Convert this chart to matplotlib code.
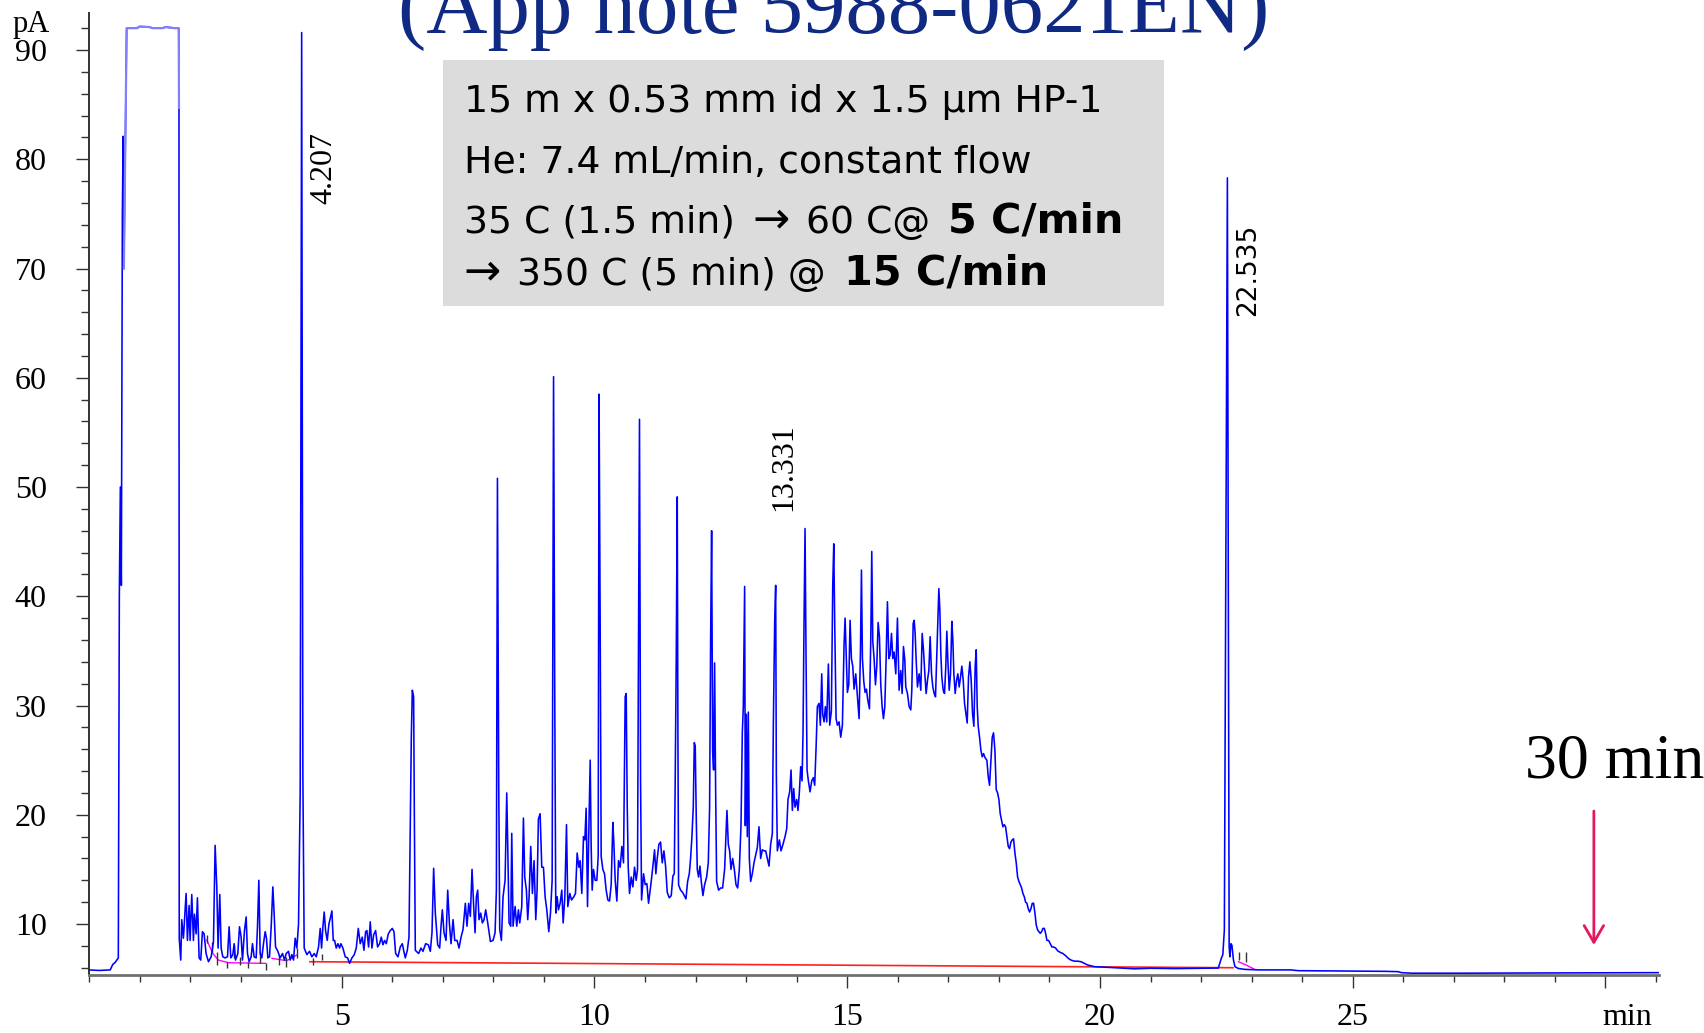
import matplotlib
matplotlib.use("Agg")
import matplotlib.pyplot as plt
from matplotlib.ticker import MultipleLocator
from matplotlib.patches import Rectangle
from matplotlib.text import Annotation

# ---------------- data ----------------
# retention time (min) / signal (pA), segment by segment
seg_a_t = [0.00, 0.20, 0.42, 0.47, 0.52, 0.58, 0.60, 0.62, 0.64, 0.66, 0.675, 0.69, 0.745, 0.80, 0.95,
           1.00, 1.20, 1.25, 1.45, 1.52, 1.70, 1.775, 1.78, 1.785]
seg_a_v = [5.80, 5.75, 5.80, 6.30, 6.50, 6.90, 40.0, 50.0, 41.0, 75.0, 82.1, 70.0, 92.0, 92.0, 92.0,
           92.15, 92.1, 92.0, 92.0, 92.1, 92.0, 92.0, 84.7, 8.7]

seg_b_t = [1.815, 1.835, 1.868, 1.921, 1.947, 1.98, 2.0, 2.033, 2.066, 2.086, 2.119, 2.145, 2.178, 2.211,
           2.244, 2.277, 2.316, 2.363, 2.416, 2.462, 2.495, 2.528, 2.554, 2.587, 2.614, 2.647, 2.693, 2.74,
           2.772, 2.805, 2.845, 2.871, 2.898, 2.944, 2.977, 3.01, 3.036, 3.076, 3.109, 3.135, 3.168, 3.208,
           3.234, 3.267, 3.307, 3.333, 3.36, 3.386, 3.419, 3.452, 3.485, 3.511, 3.538, 3.571, 3.604, 3.637,
           3.663, 3.69, 3.736, 3.782, 3.828, 3.868, 3.901, 3.947, 3.98, 4.013, 4.046, 4.079, 4.112, 4.145,
           4.178, 4.207, 4.231, 4.257, 4.31, 4.363, 4.409, 4.455, 4.495, 4.541, 4.574, 4.601, 4.627, 4.653,
           4.68, 4.713, 4.746, 4.772, 4.805, 4.832, 4.858, 4.891, 4.924, 4.957, 4.983, 5.023, 5.069, 5.115,
           5.155, 5.201, 5.248, 5.287, 5.327, 5.366, 5.406, 5.439, 5.472, 5.498, 5.531, 5.564, 5.597, 5.63,
           5.67, 5.709, 5.749, 5.782, 5.815, 5.848, 5.881, 5.921, 5.96, 6.0, 6.033, 6.066, 6.112, 6.158,
           6.198, 6.224, 6.257, 6.297, 6.33]
seg_b_v = [6.7, 10.4, 8.7, 12.8, 8.5, 11.7, 8.5, 12.7, 8.5, 10.9, 9.1, 12.4, 6.9, 6.7,
           9.3, 9.1, 7.3, 6.55, 7.0, 8.35, 17.2, 13.4, 7.8, 12.7, 7.8, 7.0, 6.9, 7.0,
           9.75, 6.9, 7.2, 8.2, 6.7, 7.3, 9.75, 8.8, 6.7, 9.4, 10.65, 7.3, 6.55, 7.0,
           8.2, 7.0, 6.9, 9.75, 14.0, 7.3, 6.9, 8.2, 9.3, 8.7, 6.9, 7.0, 9.75, 13.4,
           10.9, 7.9, 7.5, 6.9, 7.3, 6.7, 7.3, 7.5, 6.7, 7.2, 6.7, 8.7, 7.8, 10.0,
           22.0, 91.6, 23.5, 7.8, 7.2, 7.5, 7.0, 7.3, 7.0, 7.9, 9.6, 7.8, 9.75, 11.1,
           9.4, 8.5, 10.0, 10.5, 11.2, 8.5, 8.5, 7.8, 8.2, 7.8, 8.2, 7.8, 7.0, 6.9,
           6.4, 6.9, 7.2, 7.8, 9.6, 8.2, 8.8, 7.6, 9.3, 9.4, 7.9, 10.2, 7.8, 9.0,
           9.4, 7.9, 8.2, 8.8, 8.1, 8.5, 8.2, 9.1, 9.4, 9.6, 9.3, 7.3, 7.0, 7.9,
           8.2, 7.6, 6.9, 7.6, 8.8]

seg_c_t = [6.376, 6.396, 6.422, 6.436, 6.455, 6.521, 6.567, 6.607, 6.66, 6.713, 6.752, 6.785, 6.818, 6.851,
           6.898, 6.937, 6.964, 6.99, 7.023, 7.063, 7.096, 7.129, 7.162, 7.202, 7.235, 7.281, 7.32, 7.36,
           7.399, 7.445, 7.478, 7.511, 7.544, 7.577, 7.61, 7.637, 7.663, 7.689, 7.716, 7.749, 7.782, 7.815,
           7.848, 7.888, 7.941, 7.993, 8.033, 8.059, 8.08, 8.105, 8.125, 8.158, 8.191, 8.231, 8.264, 8.284,
           8.31, 8.343, 8.363, 8.389, 8.429, 8.462, 8.495, 8.521, 8.561, 8.594, 8.62, 8.653, 8.679, 8.706,
           8.739, 8.772, 8.805, 8.838, 8.864, 8.89, 8.924, 8.957, 8.99, 9.023, 9.056, 9.096, 9.129, 9.162,
           9.19, 9.215, 9.234, 9.261, 9.287, 9.32, 9.353, 9.38, 9.413, 9.446, 9.472, 9.512, 9.545, 9.591,
           9.624, 9.657, 9.69, 9.716, 9.749, 9.782, 9.809, 9.835, 9.862, 9.888, 9.915, 9.934, 9.954, 9.98,
           10.013, 10.046, 10.073, 10.09, 10.112, 10.132, 10.165, 10.198, 10.231, 10.264, 10.297, 10.33,
           10.363, 10.383, 10.409, 10.442, 10.475, 10.508, 10.541, 10.574, 10.607, 10.627, 10.647, 10.667,
           10.693, 10.726, 10.759, 10.792, 10.825, 10.851, 10.89, 10.911, 10.931, 10.97, 11.003, 11.036,
           11.069]
seg_c_v = [27.1, 31.4, 30.8, 20.1, 7.6, 7.3, 7.8, 7.5, 8.2, 8.1, 7.5, 9.2, 15.1, 11.0,
           8.1, 7.8, 9.8, 11.3, 9.2, 8.5, 13.1, 10.1, 8.2, 10.4, 8.5, 8.5, 7.8, 8.8,
           9.5, 11.9, 9.8, 11.9, 10.7, 15.0, 11.6, 9.2, 12.5, 13.1, 10.4, 11.0, 10.1, 10.4,
           11.3, 10.1, 8.4, 8.5, 9.2, 13.1, 50.8, 23.2, 9.5, 8.5, 12.5, 14.0, 22.0, 17.1,
           10.1, 9.8, 18.3, 9.8, 11.6, 9.8, 11.3, 10.1, 11.6, 19.7, 14.3, 13.1, 10.4, 12.5,
           17.1, 12.8, 15.8, 10.4, 13.1, 19.6, 20.1, 15.2, 15.2, 12.5, 11.3, 9.3, 11.0, 14.0,
           60.1, 29.4, 11.0, 12.5, 11.3, 11.9, 13.1, 10.1, 12.5, 19.1, 11.6, 12.8, 12.2, 12.5,
           12.8, 16.5, 15.2, 15.8, 12.8, 18.0, 17.7, 20.6, 11.6, 18.6, 25.0, 17.1, 13.1, 15.0,
           14.0, 14.0, 16.2, 58.5, 37.5, 16.2, 15.0, 14.6, 13.1, 12.2, 12.1, 13.6,
           19.3, 17.4, 14.0, 12.1, 15.8, 15.2, 17.1, 15.6, 30.8, 31.1, 21.0, 15.2,
           12.8, 14.3, 13.4, 15.2, 14.0, 15.0, 56.2, 23.2, 12.2, 14.6, 13.6, 13.7,
           11.9]

seg_d_t = [11.122, 11.162, 11.188, 11.214, 11.241, 11.274, 11.307, 11.34, 11.373, 11.406, 11.439, 11.479,
           11.518, 11.551, 11.578, 11.597, 11.617, 11.637, 11.65, 11.663, 11.703, 11.743, 11.776, 11.809,
           11.842, 11.875, 11.901, 11.927, 11.954, 11.974, 11.993, 12.013, 12.033, 12.059, 12.086, 12.112,
           12.145, 12.178, 12.218, 12.251, 12.277, 12.297, 12.317, 12.337, 12.356, 12.376, 12.396, 12.416,
           12.455, 12.495, 12.534, 12.574, 12.6, 12.62, 12.647, 12.673, 12.7, 12.733, 12.766, 12.799,
           12.832, 12.865, 12.898, 12.924, 12.944, 12.97, 12.984, 13.003, 13.023, 13.043, 13.063, 13.089,
           13.122, 13.155, 13.188, 13.221, 13.254, 13.287, 13.32, 13.353, 13.386, 13.419, 13.452, 13.485,
           13.518, 13.538, 13.564, 13.584, 13.597, 13.617, 13.657, 13.69, 13.729, 13.769, 13.802, 13.828,
           13.861, 13.888, 13.914, 13.941, 13.967, 14.0, 14.026, 14.053, 14.079, 14.106, 14.125, 14.145,
           14.165, 14.185, 14.205, 14.231, 14.264, 14.297, 14.33, 14.356, 14.383, 14.409, 14.442, 14.468,
           14.495, 14.515, 14.541, 14.567, 14.594, 14.627, 14.653, 14.686, 14.713, 14.733, 14.752, 14.779,
           14.805, 14.838, 14.871, 14.904, 14.937, 14.957, 14.977, 15.003, 15.03, 15.056, 15.082, 15.109,
           15.135, 15.168, 15.201, 15.234, 15.261, 15.281, 15.3, 15.327, 15.353, 15.38, 15.406, 15.439,
           15.465, 15.485, 15.505, 15.531, 15.558, 15.584, 15.611, 15.637, 15.663, 15.69, 15.716, 15.743,
           15.769, 15.795, 15.822, 15.848, 15.875, 15.901, 15.927, 15.96, 15.993]
seg_d_v = [13.9, 15.6, 16.8, 14.6, 16.0, 17.3, 17.5, 15.6, 16.7, 15.3, 12.9, 12.4,
           12.6, 14.4, 14.6, 23.4, 34.3, 49.1, 27.5, 13.6, 13.1, 12.9, 12.6, 12.3,
           13.9, 14.6, 16.0, 18.0, 20.7, 26.6, 26.3, 19.7, 15.0, 14.3, 15.3, 13.9,
           12.6, 13.6, 14.3, 15.6, 20.7, 36.0, 46.0, 25.8, 24.1, 33.9, 22.4, 13.9,
           13.1, 13.3, 13.3, 15.0, 18.0, 20.4, 17.3, 16.7, 15.0, 16.0, 15.0, 13.6,
           13.3, 15.0, 19.0, 27.5, 29.9, 40.9, 19.0, 29.2, 18.0, 29.4, 16.0, 13.9,
           14.6, 15.6, 16.3, 17.0, 18.9, 16.0, 16.8, 16.7, 16.7, 16.0, 15.3, 17.3,
           18.3, 28.2, 37.6, 41.0, 23.8, 16.7, 17.7, 16.7, 17.3, 18.0, 18.7, 21.4,
           22.1, 24.1, 20.4, 22.4, 20.7, 21.4, 20.4, 22.1, 24.4, 23.1, 27.5, 37.6,
           46.2, 34.3, 24.1, 23.1, 22.1, 23.1, 23.4, 22.7, 26.1, 29.9, 30.2, 28.2,
           32.9, 29.2, 28.5, 29.9, 28.5, 33.8, 28.2, 29.5, 41.0, 44.8, 37.6, 28.8,
           28.2, 28.5, 27.1, 28.2, 35.6, 38.0, 34.9, 31.2, 31.9, 37.8, 34.3, 33.6,
           31.5, 32.9, 30.9, 28.8, 34.9, 42.4, 34.3, 32.2, 31.2, 31.5, 30.5, 29.7,
           35.9, 44.1, 35.9, 34.3, 31.9, 33.6, 37.6, 36.3, 31.9, 29.9, 28.8, 29.9,
           34.3, 39.5, 34.3, 34.6, 36.6, 34.3, 34.9, 32.9, 38.0]

seg_e_t = [16.026, 16.059, 16.086, 16.112, 16.138, 16.158, 16.191, 16.224, 16.257, 16.277, 16.304, 16.323,
           16.343, 16.363, 16.389, 16.422, 16.455, 16.482, 16.508, 16.535, 16.561, 16.587, 16.614, 16.64,
           16.667, 16.693, 16.719, 16.746, 16.772, 16.792, 16.812, 16.832, 16.851, 16.871, 16.898, 16.924,
           16.95, 16.97, 16.99, 17.017, 17.043, 17.069, 17.089, 17.109, 17.135, 17.162, 17.188, 17.214,
           17.241, 17.267, 17.294, 17.32, 17.346, 17.373, 17.399, 17.426, 17.452, 17.478, 17.505, 17.531,
           17.551, 17.571, 17.591, 17.617, 17.644, 17.67, 17.696, 17.729, 17.762, 17.789, 17.815, 17.842,
           17.868, 17.894, 17.921, 17.947, 17.974, 18.0, 18.026, 18.053, 18.079, 18.106, 18.132, 18.158,
           18.185, 18.211, 18.238, 18.264, 18.29, 18.317, 18.343, 18.37, 18.396, 18.423, 18.449, 18.475,
           18.502, 18.528, 18.554, 18.581, 18.607, 18.634, 18.66, 18.686, 18.713, 18.739, 18.766, 18.792,
           18.818, 18.845, 18.871, 18.898, 18.924, 18.95, 18.983, 19.016, 19.049, 19.082, 19.122, 19.162,
           19.215, 19.267, 19.32, 19.373, 19.426, 19.492, 19.558, 19.624, 19.69, 19.756, 19.888, 20.152,
           20.416, 20.68]
seg_e_v = [31.4, 33.2, 31.1, 35.4, 34.2, 31.7, 31.1, 29.9, 29.6, 31.4, 37.5, 37.8,
           36.6, 34.2, 31.7, 32.9, 31.4, 36.6, 35.1, 32.9, 31.1, 32.3, 33.2, 36.3,
           32.9, 31.7, 31.1, 30.8, 34.8, 37.8, 40.7, 38.7, 34.8, 32.6, 31.4, 31.1,
           33.6, 36.8, 34.2, 31.4, 32.9, 37.7, 36.0, 32.9, 31.1, 32.3, 32.9, 31.7,
           32.6, 33.6, 32.3, 30.2, 29.3, 28.4, 32.6, 34.0, 32.3, 29.3, 28.1, 33.6,
           35.1, 29.9, 28.1, 27.1, 25.9, 25.3, 25.6, 25.2, 25.0, 23.5, 22.7, 25.0,
           27.1, 27.5, 25.9, 22.3, 22.0, 21.4, 20.1, 19.5, 18.9, 19.1, 18.9, 18.0,
           17.1, 16.9, 17.5, 17.7, 17.8, 16.5, 15.6, 14.3, 13.9, 13.6, 13.3, 12.8,
           12.5, 12.0, 11.9, 11.4, 11.1, 11.4, 11.9, 11.9, 11.0, 9.9, 9.45, 9.3,
           9.15, 9.3, 9.6, 9.6, 9.15, 8.5, 8.5, 8.2, 7.9, 7.9, 7.8, 7.55,
           7.4, 7.3, 7.1, 6.86, 6.7, 6.6, 6.6, 6.55, 6.4, 6.25, 6.1, 6.04,
           5.97, 5.9]

seg_f_t = [21.0, 21.5, 22.0, 22.34, 22.40, 22.43, 22.46, 22.52, 22.555, 22.57, 22.59, 22.61, 22.64,
           22.67, 22.73, 22.86, 23.15, 23.78, 23.92, 25.63, 25.9, 25.96, 26.16, 27.21, 30.9, 31.05]
seg_f_v = [5.95, 5.92, 5.95, 5.97, 6.86, 7.2, 9.45, 78.3, 7.9, 7.0, 8.2, 8.05, 6.7,
           6.1, 5.94, 5.85, 5.8, 5.8, 5.73, 5.67, 5.64, 5.55, 5.5, 5.5, 5.55, 5.55]

# integration baselines
red_base_t = [4.37, 22.63]
red_base_v = [6.55, 6.00]
mag1_t = [2.33, 2.45, 2.56, 2.76, 3.49]
mag1_v = [8.54, 7.3, 6.7, 6.46, 6.4]
mag2_t = [3.62, 3.91, 4.11]
mag2_v = [6.86, 6.64, 7.16]
mag3_t = [22.74, 22.89, 23.06]
mag3_v = [6.55, 6.25, 5.85]

# peak start/stop tick marks (time, top, bottom)
mark_t = [2.33, 2.43, 2.53, 2.73, 2.86, 2.98, 3.14, 3.39, 3.50, 3.75, 3.90, 4.11, 4.44, 4.61, 22.74, 22.89]
mark_top = [8.99, 8.38, 7.46, 6.55, 8.08, 7.0, 6.55, 7.46, 6.4, 7.16, 7.0, 7.8, 6.86, 7.3, 7.46, 7.46]
mark_bot = [8.23, 7.46, 6.25, 5.94, 6.86, 6.25, 5.94, 6.4, 5.79, 6.25, 6.04, 6.86, 6.25, 6.7, 6.7, 6.55]

# retention-time labels
rt_labels = ["4.207", "13.331", "22.535"]
rt_label_x = [4.65, 13.75, 22.93]
rt_label_y = [75.9, 47.8, 65.65]

x_major = [5, 10, 15, 20, 25, 30]
x_major_labels = ["5", "10", "15", "20", "25", ""]
y_major = [10, 20, 30, 40, 50, 60, 70, 80, 90]

box_line1 = "15 m x 0.53 mm id x 1.5 µm HP-1"
box_line2 = "He: 7.4 mL/min, constant flow"
box_line3_parts = ["35 C (1.5 min)", "→", "60 C@", "5 C/min"]
box_line4_parts = ["→", "350 C (5 min) @", "15 C/min"]

arrow_x = 29.77
arrow_y_from = 20.34
arrow_y_to = 8.08

# ---------------- figure ----------------
W, H = 1704, 1033
fig = plt.figure(figsize=(W / 100, H / 100), dpi=100)
ax = fig.add_axes([89 / W, 1 - 974.5 / H, 31.05 * 50.55 / W, (974.5 - 13.3) / H])
ax.set_xlim(0, 31.05)
ax.set_ylim(5.38, 93.36)

trace_t = seg_a_t + seg_b_t + seg_c_t + seg_d_t + seg_e_t + seg_f_t
trace_v = seg_a_v + seg_b_v + seg_c_v + seg_d_v + seg_e_v + seg_f_v
ax.plot(red_base_t, red_base_v, color="#ff2020", lw=1.2, zorder=2)
ax.plot(mag1_t, mag1_v, color="#ff00ff", lw=1.0, zorder=2)
ax.plot(mag2_t, mag2_v, color="#ff00ff", lw=1.0, zorder=2)
ax.plot(mag3_t, mag3_v, color="#ff00ff", lw=1.0, zorder=2)
ax.vlines(mark_t, mark_bot, mark_top, color="#333333", lw=1.0, zorder=2)
ax.plot(trace_t, trace_v, color="#0000ff", lw=1.15, zorder=3)
# saturated solvent plateau appears lighter in the original trace
ax.plot(seg_a_t[11:23], seg_a_v[11:23], color="#8080ff", lw=1.6, zorder=4)

for s in ["top", "right"]:
    ax.spines[s].set_visible(False)
ax.spines["left"].set_color("#333333")
ax.spines["left"].set_linewidth(1.4)
ax.spines["bottom"].set_color("#707070")
ax.spines["bottom"].set_linewidth(2.0)

serif = "Liberation Serif"
ax.set_xticks(x_major)
ax.set_xticklabels(x_major_labels, family=serif, fontsize=23)
ax.xaxis.set_minor_locator(MultipleLocator(1))
ax.set_yticks(y_major)
ax.set_yticklabels([str(v) for v in y_major], family=serif, fontsize=23)
ax.yaxis.set_minor_locator(MultipleLocator(2))
ax.tick_params(axis="x", which="major", length=9.4, width=1.0, pad=11, color="#333333")
ax.tick_params(axis="x", which="minor", length=5.0, width=1.0, color="#333333")
ax.tick_params(axis="y", which="major", length=9.4, width=1.0, pad=21, color="#333333")
ax.tick_params(axis="y", which="minor", length=5.5, width=1.0, color="#333333")

ax.annotate("min", xy=(30, 0), xycoords=("data", "axes fraction"),
            xytext=(16, -(9.4 + 11)), textcoords="offset points",
            ha="center", va="top", fontsize=23, family=serif)
fig.text(12.7 / W, 1 - 32 / H, "pA", fontsize=22, family=serif, ha="left", va="baseline")

for lab, lx, ly in zip(rt_labels, rt_label_x, rt_label_y):
    if lab == "22.535":
        ax.text(lx, ly, lab, rotation=90, ha="center", va="bottom", fontsize=19, family="DejaVu Sans")
    else:
        ax.text(lx, ly, lab, rotation=90, ha="center", va="bottom", fontsize=23, family=serif)

ax.annotate("", xy=(arrow_x, arrow_y_to), xytext=(arrow_x, arrow_y_from),
            arrowprops=dict(arrowstyle="->,head_length=1.2,head_width=0.7", color="#e3195b",
                            lw=2.0, shrinkA=0, shrinkB=0, mutation_scale=10))
fig.text(1525 / W, 1 - 777 / H, "30 min", fontsize=46, family=serif, ha="left", va="baseline")

fig.text(834 / W, 1 - 33 / H, "(App note 5988-0621EN)", fontsize=61, family=serif,
         color="#102a83", ha="center", va="baseline")

# ---- grey parameter box ----
fig.add_artist(Rectangle((443 / W, 1 - 306 / H), 721 / W, 246 / H, transform=fig.transFigure,
                         facecolor="#dcdcdc", edgecolor="none", zorder=1))
sans = "DejaVu Sans"
fs_box = 27.2
fs_bold = 29.8
fs_arrow = 32


def chain(prev, s, dx_pt, left=True, **kw):
    a = Annotation(s, xy=(1, 0) if left else (0, 0), xycoords=prev, xytext=(dx_pt, 0),
                   textcoords="offset points", ha="left" if left else "right", va="bottom",
                   family=sans, zorder=4, **kw)
    fig.add_artist(a)
    return a


fig.text(464 / W, 1 - 112 / H, box_line1, fontsize=fs_box, family=sans, ha="left", va="baseline", zorder=4)
fig.text(464 / W, 1 - 173 / H, box_line2, fontsize=fs_box, family=sans, ha="left", va="baseline", zorder=4)

t3 = fig.text(464 / W, 1 - 233 / H, box_line3_parts[0], fontsize=fs_box, family=sans,
              ha="left", va="baseline", zorder=4)
a3 = chain(t3, box_line3_parts[1], 12.5, fontsize=fs_arrow)
b3 = chain(a3, box_line3_parts[2], 12.0, fontsize=fs_box)
chain(b3, box_line3_parts[3], 12.5, fontsize=fs_bold, fontweight="bold")

t4 = fig.text(517 / W, 1 - 285 / H, box_line4_parts[1], fontsize=fs_box, family=sans,
              ha="left", va="baseline", zorder=4)
chain(t4, box_line4_parts[0], -12.0, left=False, fontsize=fs_arrow)
chain(t4, box_line4_parts[2], 13.0, fontsize=fs_bold, fontweight="bold")

fig.savefig("out.png", dpi=100)
